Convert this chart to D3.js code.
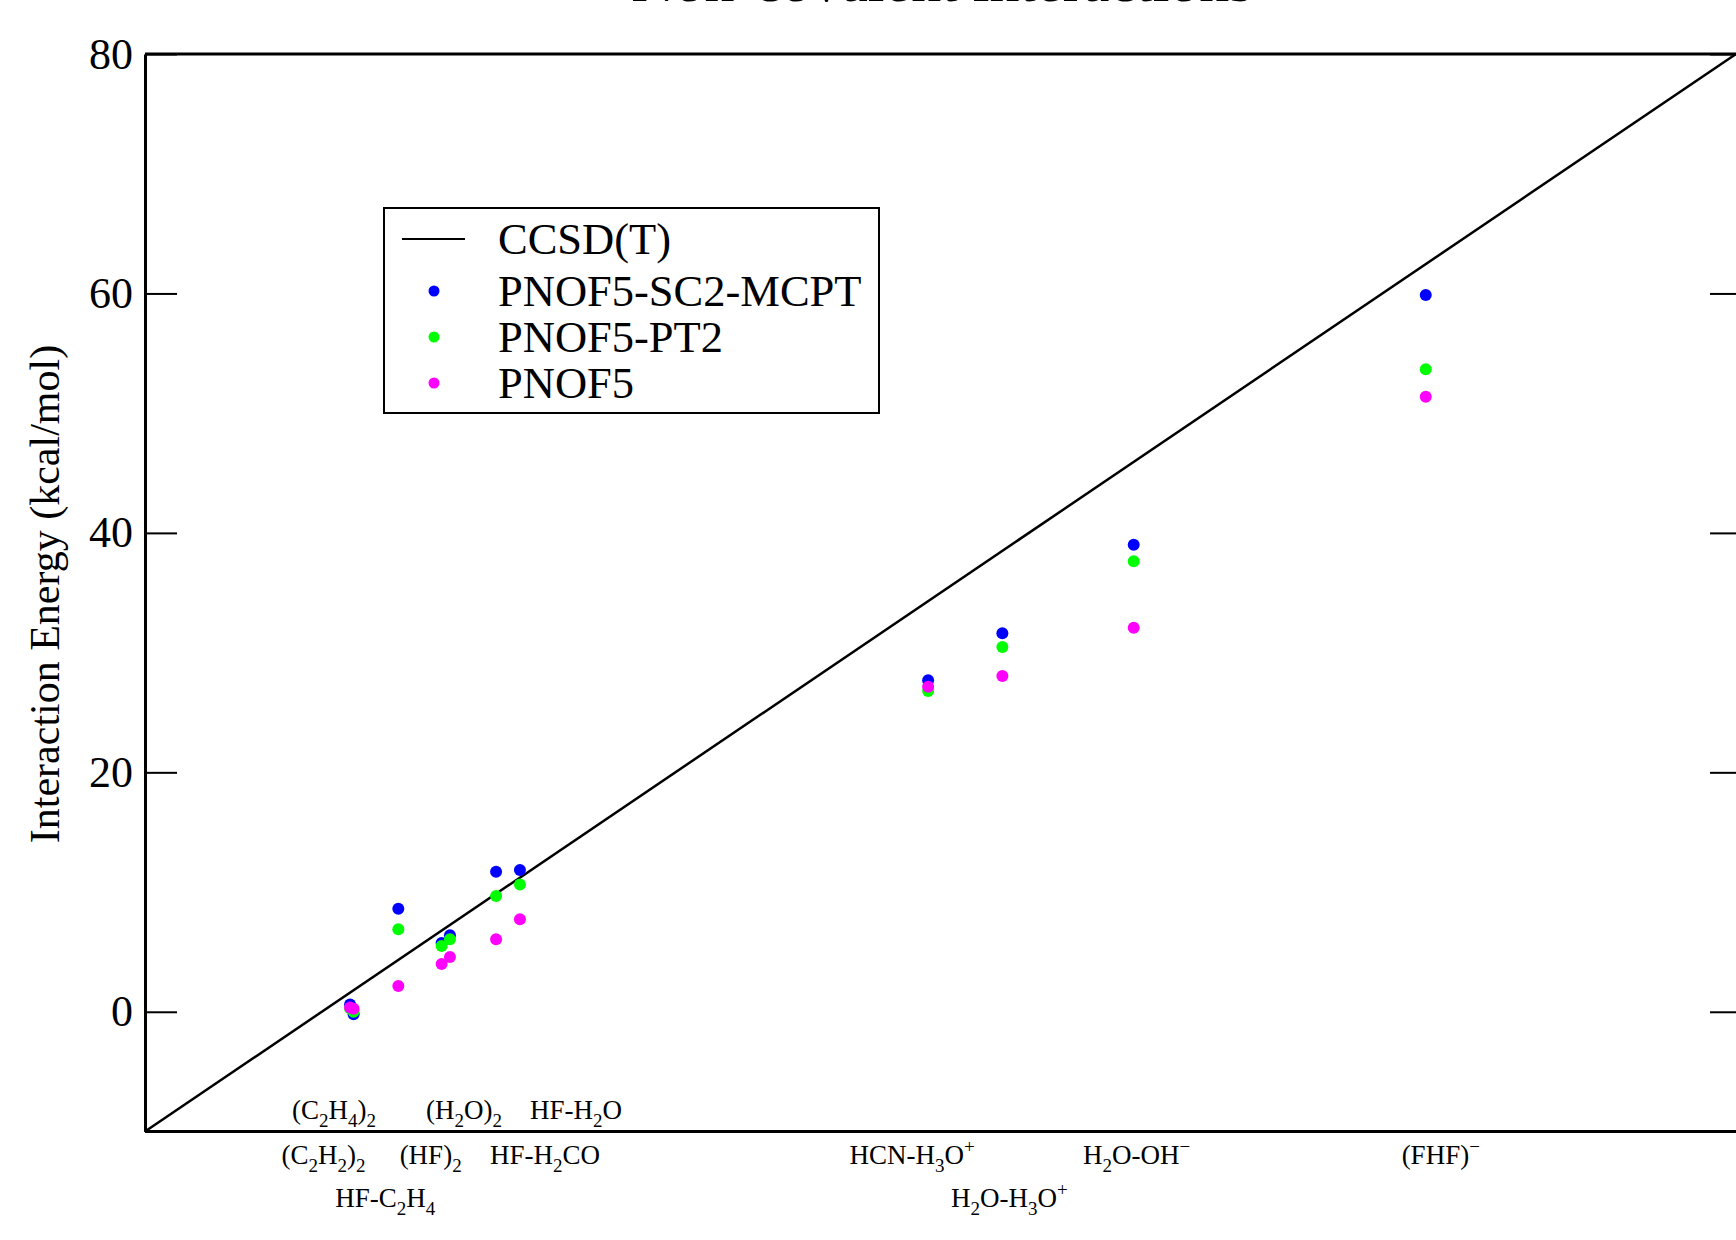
<!DOCTYPE html>
<html>
<head>
<meta charset="utf-8">
<script src="https://cdn.jsdelivr.net/npm/d3@7"></script>
<style>
  body { margin: 0; background: #fff; }
  svg { display: block; font-family: "Liberation Serif", "Times New Roman", serif; }
</style>
</head>
<body>
<svg width="1736" height="1240"></svg>
<script>
// systems, _x = subscript, ^x = superscript
const systems = ['(C_2H_4)_2', '(C_2H_2)_2', 'HF-C_2H_4', '(HF)_2', '(H_2O)_2', 'HF-H_2CO', 'HF-H_2O',
  'HCN-H_3O^+', 'H_2O-H_3O^+', 'H_2O-OH^−', '(FHF)^−']
const ccsdt = [1.6, 1.8, 4.33, 6.78, 7.25, 9.86, 11.21, 34.3, 38.5, 45.93, 62.45]
const sc2mcpt = [0.6, -0.2, 8.6, 5.74, 6.4, 11.7, 11.84, 27.69, 31.62, 39.0, 59.87]
const pt2 = [0.3, 0.0, 6.9, 5.5, 6.05, 9.67, 10.64, 26.79, 30.47, 37.63, 53.66]
const pnof5 = [0.35, 0.25, 2.15, 4.0, 4.57, 6.05, 7.72, 27.15, 28.05, 32.08, 51.38]
const yTicks = [0, 20, 40, 60, 80]

// label placement: row (-1 above axis, 0/1 below) and pixel shift from the point
const labelRow = [-1, 0, 1, 0, -1, 0, -1, 0, 1, 0, 0]
const labelShift = [-16, -30, -13, -11, 14, 49, 56, -16, 7, 3, 15]

const series = [
  { name: 'PNOF5-SC2-MCPT', values: sc2mcpt, color: '#0000ff' },
  { name: 'PNOF5-PT2', values: pt2, color: '#00ff00' },
  { name: 'PNOF5', values: pnof5, color: '#ff00ff' }
]

const svg = d3.select('svg')
const margin = { top: 54, left: 145 }
const width = 1736 - margin.left
const height = 1131.5 - margin.top
const g = svg.append('g').attr('transform', 'translate(' + margin.left + ',' + margin.top + ')')

const x = d3.scaleLinear().domain([-10, 80]).range([0, width])
const y = d3.scaleLinear().domain([-10, 80]).range([height, 0])

// title, mostly off the top of the page
svg.append('text')
  .attr('x', 942).attr('y', 1)
  .attr('text-anchor', 'middle')
  .attr('font-size', 60)
  .text('Non-covalent interactions')

// left axis
const yAxis = g.append('g')
  .call(d3.axisLeft(y).tickValues(yTicks).tickSize(-32).tickPadding(12).tickSizeOuter(0))
yAxis.select('.domain').attr('stroke-width', 3)
yAxis.selectAll('.tick line').attr('stroke-width', 2)
yAxis.selectAll('.tick text').attr('font-size', 44).attr('font-family', 'Liberation Serif').attr('fill', '#000')

// right axis ticks
const yAxisR = g.append('g').attr('transform', 'translate(' + width + ',0)')
  .call(d3.axisRight(y).tickValues(yTicks).tickSize(-26).tickFormat('').tickSizeOuter(0))
yAxisR.select('.domain').remove()
yAxisR.selectAll('.tick line').attr('stroke-width', 2)

// top and bottom lines
g.append('line').attr('x1', 0).attr('x2', width).attr('y1', 0).attr('y2', 0)
  .attr('stroke', '#000').attr('stroke-width', 3)
g.append('line').attr('x1', 0).attr('x2', width).attr('y1', height).attr('y2', height)
  .attr('stroke', '#000').attr('stroke-width', 3)

// y label
svg.append('text')
  .attr('transform', 'translate(59,594) rotate(-90)')
  .attr('text-anchor', 'middle')
  .attr('font-size', 42)
  .text('Interaction Energy (kcal/mol)')

// CCSD(T) reference line
g.append('line')
  .attr('x1', x(-10)).attr('y1', y(-10))
  .attr('x2', x(80)).attr('y2', y(80))
  .attr('stroke', '#000').attr('stroke-width', 2.5)

// points
series.forEach(s => {
  g.append('g').selectAll('circle')
    .data(s.values)
    .enter().append('circle')
    .attr('cx', (d, i) => x(ccsdt[i]))
    .attr('cy', d => y(d))
    .attr('r', 6)
    .attr('fill', s.color)
})

// system labels with sub/superscripts
function addFormula (sel, str) {
  let i = 0
  let back = 0
  while (i < str.length) {
    const c = str[i]
    if (c === '_' || c === '^') {
      const shift = c === '_' ? 8 : -11
      sel.append('tspan').attr('dy', shift + back).attr('font-size', 19).text(str[i + 1])
      back = -shift
      i += 2
    } else {
      let j = i
      while (j < str.length && str[j] !== '_' && str[j] !== '^') j++
      sel.append('tspan').attr('dy', back).text(str.slice(i, j))
      back = 0
      i = j
    }
  }
}
const rowY = { '-1': height - 13, '0': height + 32, '1': height + 75 }
systems.forEach((s, i) => {
  const t = g.append('text')
    .attr('x', x(ccsdt[i]) + labelShift[i])
    .attr('y', rowY[labelRow[i]])
    .attr('text-anchor', 'middle')
    .attr('font-size', 27)
  addFormula(t, s)
})

// legend
const legend = svg.append('g')
legend.append('rect')
  .attr('x', 384).attr('y', 208).attr('width', 495).attr('height', 205)
  .attr('fill', '#fff').attr('stroke', '#000').attr('stroke-width', 2)
const rows = [{ name: 'CCSD(T)', line: true }].concat(series)
const rowCy = [239, 291, 337, 383]
rows.forEach((r, i) => {
  const cy = rowCy[i]
  if (r.line) {
    legend.append('line').attr('x1', 402).attr('x2', 465).attr('y1', cy).attr('y2', cy)
      .attr('stroke', '#000').attr('stroke-width', 2)
  } else {
    legend.append('circle').attr('cx', 434).attr('cy', cy).attr('r', 5.5).attr('fill', r.color)
  }
  legend.append('text').attr('x', 498).attr('y', cy + 15)
    .attr('font-size', 44.5).text(r.name)
})
</script>
</body>
</html>
